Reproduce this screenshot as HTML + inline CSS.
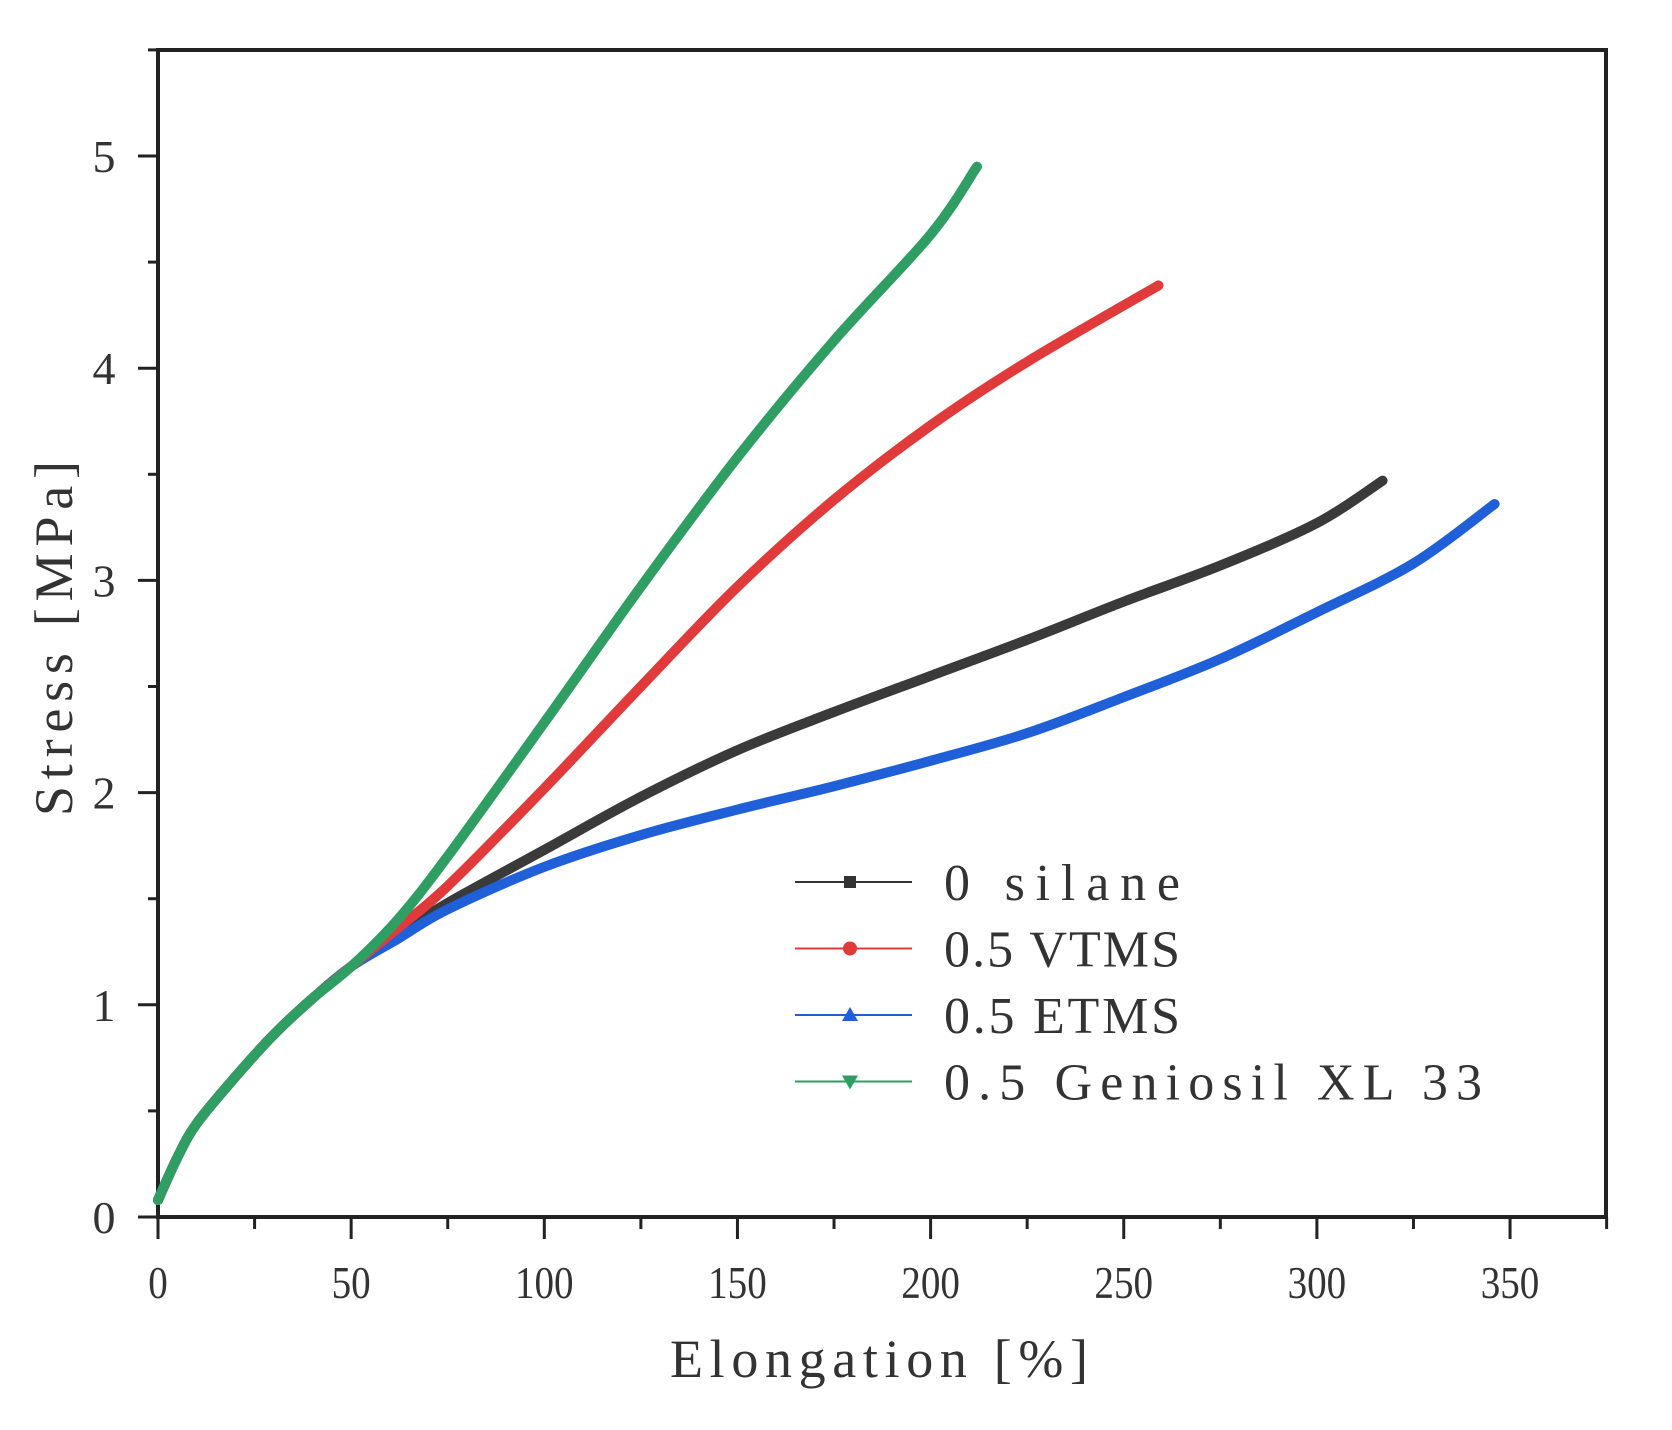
<!DOCTYPE html>
<html><head><meta charset="utf-8"><style>
html,body{margin:0;padding:0;background:#fff;}
svg{display:block;}
text{font-family:"Liberation Serif","Noto Serif CJK SC",serif;fill:#333;}
</style></head><body>
<svg id="s" width="1672" height="1430" viewBox="0 0 1672 1430" xmlns="http://www.w3.org/2000/svg">
<rect width="1672" height="1430" fill="#fff"/>
<g id="g"></g>
</svg>
<script>
const X=x=>158+x*3.863, Y=y=>1217-y*212.2;
let h='';
h+=`<rect x="158" y="50" width="1448" height="1167" fill="none" stroke="#222" stroke-width="4"/>`;
for(let v=0;v<=375;v+=25){const maj=v%50==0;h+=`<line x1="${X(v)}" y1="1217" x2="${X(v)}" y2="${1217+(maj?22:12)}" stroke="#222" stroke-width="3"/>`;
 if(maj&&v<=350)h+=`<text x="${X(v)}" y="1298" font-size="46" text-anchor="middle" transform="translate(${X(v)},0) scale(0.85,1) translate(${-X(v)},0)">${v}</text>`;}
for(let v=0;v<=5.5;v+=0.5){const maj=Math.abs(v-Math.round(v))<1e-6;h+=`<line x1="${158-(maj?20:10)}" y1="${Y(v)}" x2="158" y2="${Y(v)}" stroke="#222" stroke-width="3"/>`;
 if(maj)h+=`<text x="104" y="${Y(v)+16}" font-size="46" text-anchor="middle">${Math.round(v)}</text>`;}
h+=`<text x="670" y="1377" font-size="54" textLength="418" lengthAdjust="spacing">Elongation [%]</text>`;
h+=`<text transform="translate(72,816) rotate(-90)" font-size="54" textLength="355" lengthAdjust="spacing">Stress [MPa]</text>`;
const common=[[0,0.08],[5,0.28],[10,0.44],[20,0.66],[30,0.86],[40,1.03],[50,1.18]];
const series=[
 ['#3a3a3a',[[62,1.33],[75,1.48],[100,1.73],[125,1.98],[150,2.2],[175,2.38],[200,2.55],[225,2.72],[250,2.9],[275,3.07],[300,3.27],[317,3.47]]],
 ['#1f5fd8',[[62,1.31],[75,1.45],[100,1.65],[125,1.8],[150,1.92],[175,2.03],[200,2.15],[225,2.28],[250,2.45],[275,2.63],[300,2.85],[325,3.08],[346,3.36]]],
 ['#e03a3a',[[62,1.36],[75,1.56],[100,2.02],[125,2.5],[150,2.97],[175,3.38],[200,3.73],[225,4.03],[259,4.39]]],
 ['#2f9e62',[[62,1.4],[75,1.7],[100,2.33],[125,2.97],[150,3.58],[175,4.13],[200,4.63],[212,4.95]]]
];
function path(pts){pts=pts.map(p=>[X(p[0]),Y(p[1])]);let d=`M${pts[0]}`;
 for(let i=0;i<pts.length-1;i++){const p0=pts[i-1]||pts[i],p1=pts[i],p2=pts[i+1],p3=pts[i+2]||p2;
 d+=` C${p1[0]+(p2[0]-p0[0])/6},${p1[1]+(p2[1]-p0[1])/6} ${p2[0]-(p3[0]-p1[0])/6},${p2[1]-(p3[1]-p1[1])/6} ${p2[0]},${p2[1]}`;}return d;}
for(const [c,p] of series)h+=`<path d="${path(common.concat(p))}" fill="none" stroke="${c}" stroke-width="10" stroke-linecap="round" stroke-linejoin="round"/>`;
const leg=[['#333','0 silane','s'],['#e03a3a','0.5 VTMS','c'],['#1f5fd8','0.5 ETMS','t'],['#2f9e62','0.5 Geniosil XL 33','v']];
leg.forEach((l,i)=>{const y=882+i*66.5;h+=`<line x1="795" y1="${y}" x2="912" y2="${y}" stroke="${l[0]}" stroke-width="2"/>`;
 if(l[2]=='s')h+=`<rect x="844" y="${y-6}" width="12" height="12" fill="${l[0]}"/>`;
 if(l[2]=='c')h+=`<circle cx="850" cy="${y}" r="7" fill="${l[0]}"/>`;
 if(l[2]=='t')h+=`<path d="M850 ${y-8} L858 ${y+6} L842 ${y+6}Z" fill="${l[0]}"/>`;
 if(l[2]=='v')h+=`<path d="M850 ${y+8} L858 ${y-6} L842 ${y-6}Z" fill="${l[0]}"/>`;
 const tl=(l[1].length*30.2-6).toFixed(0);
 h+=`<text x="944" y="${y+18}" font-size="52" textLength="${tl}" lengthAdjust="spacing">${l[1]}</text>`;});
document.getElementById('g').innerHTML=h;
</script>
</body></html>
